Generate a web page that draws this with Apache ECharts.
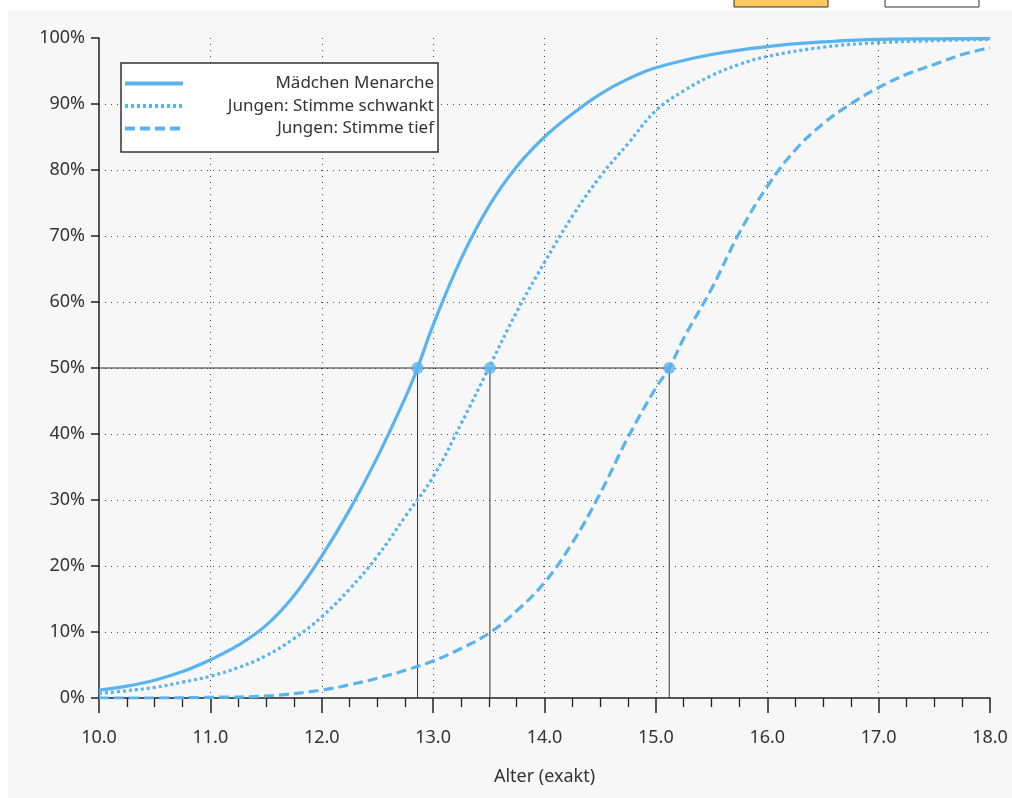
<!DOCTYPE html>
<html><head><meta charset="utf-8">
<script src="https://cdn.jsdelivr.net/npm/echarts@6/dist/echarts.min.js"></script>
<style>html,body{margin:0;padding:0;background:#fff}#c{width:1012px;height:798px}</style>
</head><body><div id="c"></div>
<script>
const seriesNames = ['Mädchen Menarche', 'Jungen: Stimme schwankt', 'Jungen: Stimme tief'];
const girlsMenarche = [[10.0,1.2],[10.25,1.8],[10.5,2.7],[10.75,4.0],[11.0,5.8],[11.25,8.0],[11.5,11.0],[11.75,15.5],[12.0,21.5],[12.25,28.5],[12.5,36.5],[12.75,45.5],[12.86,50],[13.0,56.5],[13.25,66.5],[13.5,74.5],[13.75,80.5],[14.0,85.0],[14.25,88.5],[14.5,91.5],[14.75,93.8],[15.0,95.5],[15.5,97.5],[16.0,98.7],[16.5,99.4],[17.0,99.8],[18.0,99.9]];
const boysVoiceBreaking = [[10.0,0.7],[10.25,1.1],[10.5,1.6],[10.75,2.4],[11.0,3.3],[11.25,4.6],[11.5,6.4],[11.75,9.0],[12.0,12.3],[12.25,16.5],[12.5,21.5],[12.75,27.5],[13.0,33.5],[13.25,41.5],[13.5,50],[13.75,58.5],[14.0,66],[14.25,73],[14.5,79],[14.75,84],[15.0,89],[15.25,92],[15.5,94.3],[15.75,96],[16.0,97.2],[16.5,98.6],[17.0,99.3],[17.5,99.6],[18.0,99.8]];
const boysVoiceDeep = [[10.0,0],[10.5,0],[11.0,0.1],[11.5,0.3],[12.0,1.2],[12.25,2.0],[12.5,3.0],[12.75,4.2],[13.0,5.6],[13.25,7.5],[13.5,9.8],[13.75,13.2],[14.0,17.5],[14.25,23.5],[14.5,31],[14.75,39.5],[15.0,47],[15.12,50],[15.25,54.5],[15.5,62],[15.75,70.5],[16.0,77.5],[16.25,83],[16.5,87],[16.75,90],[17.0,92.5],[17.25,94.5],[17.5,96],[17.75,97.5],[18.0,98.5]];
const medianAges = [12.86, 13.51, 15.12];
const medianLevel = 50;
const xMin = 10, xMax = 18, yMin = 0, yMax = 100;

const blue = '#58b3ee';
const font = 'Noto Sans';
const chart = echarts.init(document.getElementById('c'), null, {renderer:'canvas'});

const refSeries = [];
refSeries.push({type:'line', data:[[xMin, medianLevel],[Math.max(...medianAges), medianLevel]], symbol:'none', silent:true,
  lineStyle:{color:'#333', width:1}, z:1});
medianAges.forEach(a => refSeries.push({type:'line', data:[[a,yMin],[a,medianLevel]], symbol:'none', silent:true,
  lineStyle:{color:'#333', width:1}, z:1}));

chart.setOption({
  backgroundColor:'#ffffff',
  animation:false,
  graphic:[
    {type:'rect', shape:{x:8,y:10,width:1004,height:788}, style:{fill:'#f7f7f7'}, z:-10},
    {type:'rect', shape:{x:734,y:-2,width:94,height:9}, style:{fill:'#fec860', stroke:'#333', lineWidth:1}},
    {type:'rect', shape:{x:885,y:-2,width:94,height:9}, style:{fill:'#ffffff', stroke:'#333', lineWidth:1}}
  ],
  grid:{left:99, right:22, top:38, bottom:100},
  legend:{
    left:121, top:63, orient:'vertical', itemGap:5.5, itemWidth:58, itemHeight:18,
    padding:[12,4,15,2],
    backgroundColor:'#ffffff', borderColor:'#333', borderWidth:1.5,
    data:seriesNames,
    itemStyle:{opacity:0},
    lineStyle:{width:4},
    formatter: n => '{t|' + n + '}',
    textStyle:{fontFamily:font, fontSize:17, color:'#333',
      rich:{t:{fontFamily:font, fontSize:17, color:'#333', width:246, align:'right'}}}
  },
  xAxis:{
    type:'value', min:xMin, max:xMax, interval:1,
    name:'Alter (exakt)', nameLocation:'middle', nameGap:70,
    nameTextStyle:{fontFamily:font, fontSize:18, color:'#333'},
    axisLine:{show:true, onZero:false, lineStyle:{color:'#222', width:1.5}},
    axisTick:{show:true, length:15, lineStyle:{color:'#222', width:1.5}},
    minorTick:{show:true, splitNumber:4, length:9, lineStyle:{color:'#222', width:1.3}},
    axisLabel:{fontFamily:font, fontSize:18, color:'#333', margin:31, formatter:v=>v.toFixed(1)},
    splitLine:{show:true, showMinLine:false, showMaxLine:false, lineStyle:{color:'#444', width:1, type:[1,5]}}
  },
  yAxis:{
    type:'value', min:yMin, max:yMax, interval:10,
    axisLine:{show:true, lineStyle:{color:'#222', width:1.5}},
    axisTick:{show:true, length:8, lineStyle:{color:'#222', width:1.5}},
    axisLabel:{fontFamily:font, fontSize:18, color:'#333', margin:14, formatter:'{value}%'},
    splitLine:{show:true, showMinLine:false, showMaxLine:false, lineStyle:{color:'#444', width:1, type:[1,5]}}
  },
  series:[
    ...refSeries,
    {name:seriesNames[0], type:'line', data:girlsMenarche, smooth:0.4, symbol:'none', showSymbol:false,
      lineStyle:{color:blue, width:3.2, type:'solid'}, itemStyle:{color:blue}, z:3},
    {name:seriesNames[1], type:'line', data:boysVoiceBreaking, smooth:0.4, symbol:'none', showSymbol:false,
      lineStyle:{color:blue, width:3.2, type:[3,3]}, itemStyle:{color:blue}, z:3},
    {name:seriesNames[2], type:'line', data:boysVoiceDeep, smooth:0.4, symbol:'none', showSymbol:false,
      lineStyle:{color:blue, width:3.2, type:[10,5]}, itemStyle:{color:blue}, z:3},
    {type:'scatter', data:medianAges.map(a=>[a,medianLevel]), symbolSize:12, itemStyle:{color:blue}, z:5, silent:true}
  ]
});
</script></body></html>
